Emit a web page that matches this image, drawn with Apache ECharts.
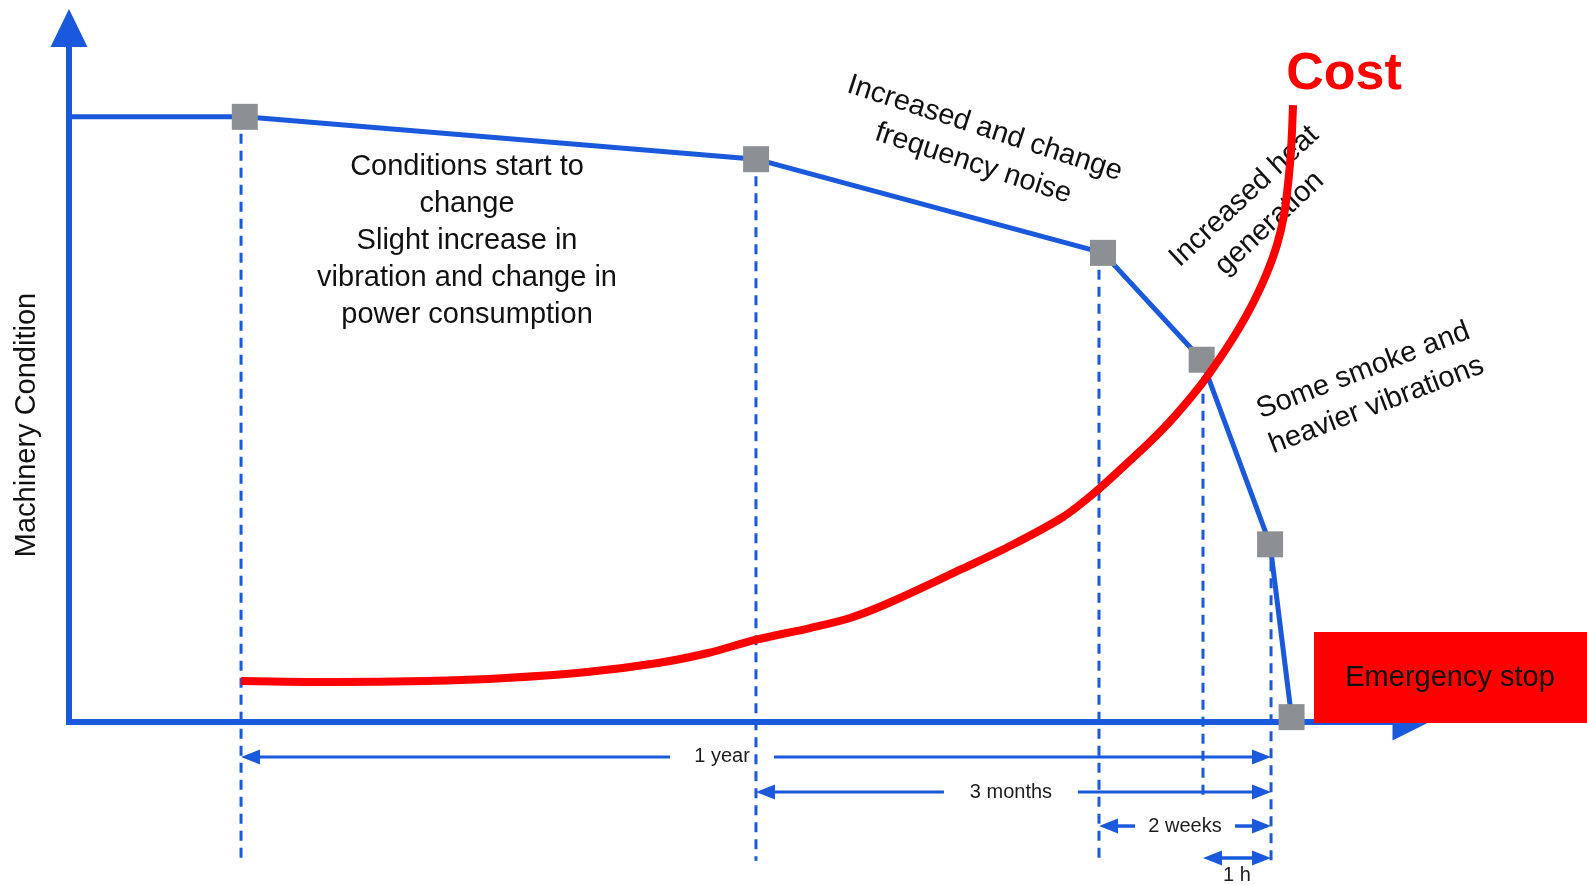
<!DOCTYPE html>
<html>
<head>
<meta charset="utf-8">
<title>Machinery Condition and Cost</title>
<script src="https://cdn.jsdelivr.net/npm/echarts@6/dist/echarts.min.js"></script>
<style>
  html, body { margin: 0; padding: 0; background: #ffffff; }
  #chart { width: 1587px; height: 885px; }
</style>
</head>
<body>
<div id="chart"></div>
<script>
// Machinery condition (0-100) against relative time (0-100) until the stop
const conditionTime  = [0, 13.1, 51.2, 77.05, 84.4, 89.5, 91.1];
const conditionLevel = [87.2, 87.2, 81.1, 67.6, 52.2, 25.6, 0.7];

// Cost of repair as the machine degrades
const costTime  = [12.82, 19.75, 26.53, 32.56, 38.60, 43.89, 47.62, 51.12, 55.22, 58.20, 61.25, 66.54, 70.27, 74.07,
                   76.30, 78.54, 80.55, 82.41, 84.28, 85.77, 87.11, 88.23, 89.20, 90.01, 90.54, 90.83, 91.06, 91.21];
const costLevel = [5.91, 5.76, 5.91, 6.34, 7.20, 8.50, 9.94, 11.82, 13.54, 14.99, 17.29, 22.05, 25.50, 29.54,
                   32.85, 36.74, 40.35, 44.09, 48.41, 52.45, 56.48, 60.37, 64.41, 68.73, 73.05, 77.38, 82.42, 88.90];

// Start of each warning stage; the last one is where all warning spans end
const stageTime = [12.82, 51.19, 76.75, 84.5, 89.57];

// Warning time left from a stage until the end
const intervalLabels = ['1 year', '3 months', '2 weeks', '1 h'];
const intervalFrom   = [0, 1, 2, 3];

// ---- layout ----
const GRID = { left: 69, right: 176, top: 28, bottom: 163 };
const W = 1587, H = 885;
const pxPerX = (W - GRID.left - GRID.right) / 100;
const BLUE = '#1a58dc';
const RED = '#ff0000';
const INK = '#111111';
const FONT = '"Liberation Sans", Arial, Helvetica, sans-serif';

const guideBottom = [-20, -20, -20, -11.2, -20];  // dashed stage lines run below the axis
const rowLevel  = [-5.04, -10.09, -14.99, -19.6]; // level of each span arrow
const labelX    = [48.66, 70.19, 83.16, 87.03];
const labelY    = [-5.04, -10.09, -14.99, -22.05];
const gapHalfPx = [52, 67, 50, 0];                // 0: label sits below the arrow
const spanWidth = [3, 3, 3.5, 3.5];
const headSize  = [15, 19];
const headInset = headSize[1] / 2 / pxPerX;

const notes = [
  { text: 'Conditions start to\nchange\nSlight increase in\nvibration and change in\npower consumption', at: [29.66, 69.24], rotate: 0 },
  { text: 'Increased and change\nfrequency noise', at: [67.81, 82.99], rotate: -18 },
  { text: 'Increased heat\ngeneration', at: [88.52, 73.78], rotate: 43 },
  { text: 'Some smoke and\nheavier vibrations', at: [96.94, 48.13], rotate: 21 }
];

function textSeries(text, at, opts) {
  return {
    type: 'scatter', data: [at], symbolSize: 1, silent: true, clip: false, z: opts.z || 3,
    itemStyle: { color: 'rgba(0,0,0,0)', opacity: 1 },
    label: {
      show: true, position: 'inside', formatter: text, rotate: opts.rotate || 0,
      fontSize: opts.fontSize || 29, lineHeight: opts.lineHeight || 37,
      fontWeight: opts.fontWeight || 'normal', color: opts.color || INK,
      fontFamily: FONT, align: 'center', verticalAlign: 'middle',
      textBorderWidth: 0, opacity: 1
    }
  };
}

function endPoint(x, y, head) {
  if (!head) return { value: [x, y], symbol: 'none' };
  return { value: [x, y], symbol: 'triangle', symbolRotate: head === 'left' ? 90 : -90 };
}

function spanSegment(from, to, width) {
  return {
    type: 'line', data: [from, to], clip: false, silent: true, z: 2,
    symbolSize: headSize, showAllSymbol: true,
    itemStyle: { color: BLUE, opacity: 1 },
    lineStyle: { color: BLUE, width: width }
  };
}

const series = [];

// dashed guide lines from each stage down through the time axis
stageTime.forEach((t, i) => {
  series.push({
    type: 'line', data: [[t, conditionLevel[i + 1]], [t, guideBottom[i]]],
    symbol: 'none', clip: false, silent: true, z: 1,
    lineStyle: { color: BLUE, width: 3, type: [10, 7] }
  });
});

// machinery condition
series.push({
  type: 'line', name: 'Machinery Condition', z: 2, clip: false,
  data: conditionTime.map((t, i) => ({ value: [t, conditionLevel[i]], symbol: i === 0 ? 'none' : 'rect' })),
  symbolSize: 26, showAllSymbol: true,
  itemStyle: { color: '#8c8f93', opacity: 1 },
  lineStyle: { color: BLUE, width: 5 }
});

// warning-time spans
intervalLabels.forEach((lab, k) => {
  const x0 = stageTime[intervalFrom[k]] + headInset;
  const x1 = stageTime[stageTime.length - 1] - headInset;
  const y = rowLevel[k];
  const gap = gapHalfPx[k] / pxPerX;
  if (gapHalfPx[k] > 0) {
    series.push(spanSegment(endPoint(x0, y, 'left'), endPoint(labelX[k] - gap, y), spanWidth[k]));
    series.push(spanSegment(endPoint(labelX[k] + gap, y), endPoint(x1, y, 'right'), spanWidth[k]));
  } else {
    series.push(spanSegment(endPoint(x0, y, 'left'), endPoint(x1, y, 'right'), spanWidth[k]));
  }
  series.push(textSeries(lab, [labelX[k], labelY[k]], { fontSize: 20, lineHeight: 22, color: '#1c1c1c' }));
});

// annotations
notes.forEach(n => series.push(textSeries(n.text, n.at, { rotate: n.rotate })));

// cost curve
series.push({
  type: 'line', name: 'Cost', z: 4, clip: false, smooth: 0.3, symbol: 'none',
  data: costTime.map((t, i) => [t, costLevel[i]]),
  lineStyle: { color: RED, width: 8 }
});
series.push(textSeries('Cost', [95.01, 93.23], { fontSize: 52, lineHeight: 56, fontWeight: 'bold', color: RED, z: 5 }));

// emergency stop box
series.push({
  type: 'scatter', data: [[103.43, 6.41]], symbol: 'rect', symbolSize: [286, 91],
  clip: false, silent: true, z: 6,
  itemStyle: { color: RED, opacity: 1 },
  label: {
    show: true, position: 'inside', formatter: 'Emergency stop', offset: [-7, 0],
    fontSize: 29, color: INK, fontFamily: FONT, textBorderWidth: 0, opacity: 1
  }
});

const chart = echarts.init(document.getElementById('chart'), null, { renderer: 'canvas' });
chart.setOption({
  animation: false,
  backgroundColor: '#ffffff',
  grid: Object.assign({ containLabel: false, outerBoundsMode: 'none' }, GRID),
  xAxis: {
    type: 'value', min: 0, max: 100,
    axisLine: { show: true, onZero: false, symbol: ['none', 'triangle'], symbolSize: [37, 37],
                lineStyle: { color: BLUE, width: 6, cap: 'square' } },
    axisTick: { show: false }, axisLabel: { show: false }, splitLine: { show: false }
  },
  yAxis: {
    type: 'value', min: 0, max: 100,
    name: 'Machinery Condition', nameLocation: 'middle', nameRotate: 90, nameGap: 28,
    nameTextStyle: { fontSize: 29, color: INK, fontFamily: FONT, padding: [0, 100, 0, 0] },
    axisLine: { show: true, onZero: false, symbol: ['none', 'triangle'], symbolSize: [37, 38],
                lineStyle: { color: BLUE, width: 6, cap: 'square' } },
    axisTick: { show: false }, axisLabel: { show: false }, splitLine: { show: false }
  },
  series: series
});
</script>
</body>
</html>
